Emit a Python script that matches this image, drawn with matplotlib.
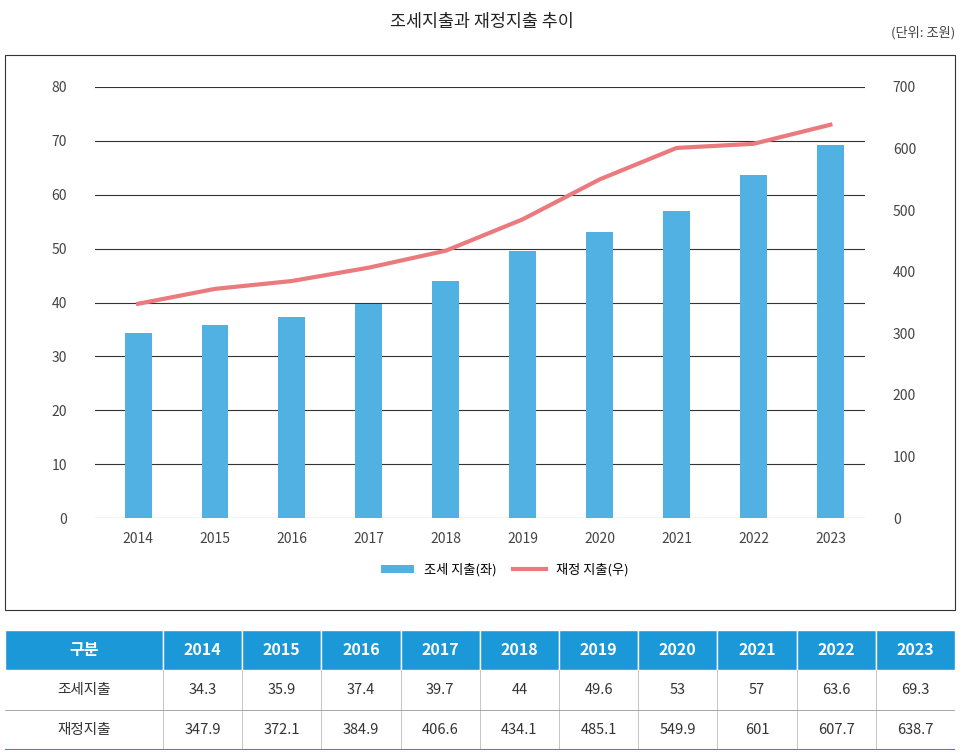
import matplotlib.pyplot as plt
from matplotlib.patches import Rectangle

plt.rcParams['font.family'] = ['Noto Sans CJK KR', 'DejaVu Sans']

years = ['2014', '2015', '2016', '2017', '2018', '2019', '2020', '2021', '2022', '2023']
tax = [34.3, 35.9, 37.4, 39.7, 44, 49.6, 53, 57, 63.6, 69.3]
spend = [347.9, 372.1, 384.9, 406.6, 434.1, 485.1, 549.9, 601, 607.7, 638.7]

W, H = 963, 755
fig = plt.figure(figsize=(W / 100, H / 100), dpi=100)

def fx(px):
    return px / W

def fy(py):
    return 1 - py / H

fig.text(0.5, fy(22), '조세지출과 재정지출 추이', ha='center', va='center', fontsize=12.5, color='#222222')
fig.text(fx(955), fy(33), '(단위: 조원)', ha='right', va='center', fontsize=9.5, color='#444444')
fig.patches.append(Rectangle((fx(5), fy(610)), fx(950), fy(55) - fy(610), transform=fig.transFigure,
                             fill=False, edgecolor='#333333', linewidth=0.8))

ax = fig.add_axes([fx(95), fy(518), fx(770), fy(87) - fy(518)])
x = list(range(len(years)))
ax.bar(x, tax, width=0.35, color='#52b1e3', label='조세 지출(좌)', zorder=3)
ax.set_ylim(0, 80)
ax.set_xlim(-0.56, 9.45)
ax.set_yticks(range(0, 81, 10))
ax.set_xticks(x)
ax.set_xticklabels(years)
ax.grid(axis='y', color='#333333', linewidth=0.8, zorder=0)
for s in ax.spines.values():
    s.set_visible(False)
ax.tick_params(length=0, labelsize=10, colors='#444444', pad=10)
ax.tick_params(axis='y', pad=20)

ax2 = ax.twinx()
ax2.plot(x, spend, color='#ea7a7e', linewidth=3, label='재정 지출(우)', zorder=4)
ax2.set_ylim(0, 700)
ax2.set_yticks(range(0, 701, 100))
for s in ax2.spines.values():
    s.set_visible(False)
ax2.tick_params(length=0, labelsize=10, colors='#444444', pad=20)

h1, l1 = ax.get_legend_handles_labels()
h2, l2 = ax2.get_legend_handles_labels()
fig.legend(h1 + h2, l1 + l2, loc='center', bbox_to_anchor=(fx(505), fy(570)), ncol=2,
           frameon=False, fontsize=9.5, handlelength=2.5, handleheight=0.6, columnspacing=1.2)

# table
tax_t = fig.add_axes([fx(5), fy(750), fx(950), fy(630) - fy(750)])
tax_t.set_xlim(0, 950)
tax_t.set_ylim(120, 0)
tax_t.axis('off')
col_w = [158] + [(950 - 158) / 10] * 10
edges = [0]
for w in col_w:
    edges.append(edges[-1] + w)
rows = [['구분'] + years,
        ['조세지출'] + [f'{v:g}' for v in tax],
        ['재정지출'] + [f'{v:g}' for v in spend]]
for r, row in enumerate(rows):
    y0 = r * 40
    for c, txt in enumerate(row):
        if r == 0:
            tax_t.add_patch(Rectangle((edges[c], y0), col_w[c], 40, facecolor='#1a98d8',
                                      edgecolor='white', linewidth=1))
            tax_t.text(edges[c] + col_w[c] / 2, y0 + 20, txt, ha='center', va='center',
                       color='white', fontsize=11.5, fontweight='bold')
        else:
            tax_t.text(edges[c] + col_w[c] / 2, y0 + 20, txt, ha='center', va='center',
                       color='#333333', fontsize=10.5)
            if c > 0:
                tax_t.plot([edges[c], edges[c]], [y0, y0 + 40], color='#bbbbbb', linewidth=0.6)
tax_t.plot([0, 950], [80, 80], color='#999999', linewidth=0.6)
tax_t.plot([0, 950], [119.5, 119.5], color='#1a98d8', linewidth=1.5)

fig.savefig('out.png', dpi=100)
